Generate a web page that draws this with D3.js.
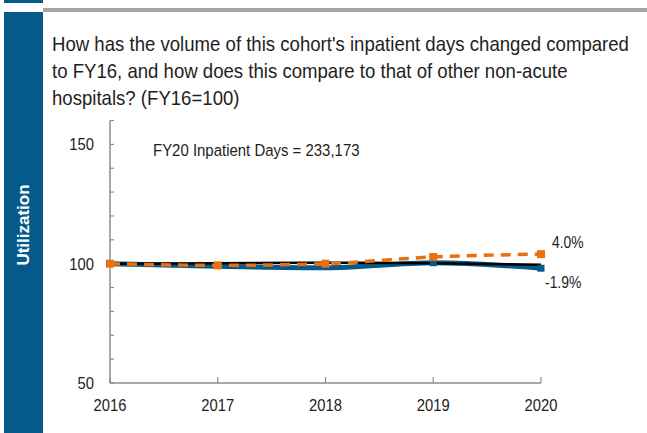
<!DOCTYPE html>
<html>
<head>
<meta charset="utf-8">
<script src="https://cdn.jsdelivr.net/npm/d3@7"></script>
<style>
  body { margin: 0; background: #fff; }
  svg { display: block; font-family: "Liberation Sans", Arial, sans-serif; }
</style>
</head>
<body>
<svg id="chart" width="647" height="433"></svg>
<script>
// data (FY16 = 100)
const years = [2016, 2017, 2018, 2019, 2020];
const cohort = [100, 98.9, 98.3, 100.4, 98.1];        // blue
const benchmark = [100, 100.2, 100.4, 100.2, 99.6];   // black
const nonAcute = [100, 99.3, 100, 102.8, 104.0];      // orange dashed
const yTicks = [50, 100, 150];
const endLabels = ["4.0%", "-1.9%"];
const titleLines = [
  "How has the volume of this cohort's inpatient days changed compared",
  "to FY16, and how does this compare to that of other non-acute",
  "hospitals? (FY16=100)"
];
const note = "FY20 Inpatient Days = 233,173";

const blue = "#045a8a";
const orange = "#e8700f";
const grey = "#8c8c8c";
const ink = "#1e1e1e";

const svg = d3.select("#chart");

// place text at (x,y) squeezed horizontally, the original font is a bit condensed
function label(sel, x, y, size, sx, anchor) {
  return sel.append("text")
    .attr("transform", `translate(${x},${y}) scale(${sx},1)`)
    .attr("text-anchor", anchor || "start")
    .attr("font-size", size)
    .attr("fill", ink);
}

// frame: side band, top rule
svg.append("rect").attr("x", 4).attr("y", 0).attr("width", 39).attr("height", 3).attr("fill", blue);
svg.append("rect").attr("x", 43).attr("y", 8).attr("width", 604).attr("height", 4).attr("fill", "#a6a6a6");
svg.append("rect").attr("x", 4).attr("y", 12).attr("width", 39).attr("height", 421).attr("fill", blue);
svg.append("text")
  .attr("transform", "translate(29,225) rotate(-90)")
  .attr("text-anchor", "middle")
  .attr("fill", "#fff")
  .attr("font-weight", "bold")
  .attr("font-size", 17)
  .text("Utilization");

// title
titleLines.forEach((t, i) => {
  label(svg, 52, 51 + i * 27, 20, 0.93).text(t);
});

// scales
const x = d3.scaleLinear().domain([2016, 2020]).range([110, 541]);
const y = d3.scaleLinear().domain([50, 160]).range([383, 120.5]);

// y axis with minor ticks every 10
const yAxis = svg.append("g").attr("transform", "translate(110,0)");
yAxis.append("line").attr("y1", y(160)).attr("y2", y(50)).attr("stroke", grey).attr("stroke-width", 1.5);
yAxis.selectAll(".tk")
  .data(d3.range(50, 161, 10))
  .join("line")
  .attr("x1", 0).attr("x2", 4)
  .attr("y1", d => y(d)).attr("y2", d => y(d))
  .attr("stroke", grey).attr("stroke-width", 1.2);
yTicks.forEach(v => {
  label(yAxis, -16, y(v) + 6, 17, 0.87, "end").text(v);
});

// x axis
const xAxis = svg.append("g").attr("transform", `translate(0,${y(50)})`);
xAxis.append("line").attr("x1", x(2016)).attr("x2", x(2020)).attr("stroke", grey).attr("stroke-width", 1.5);
xAxis.selectAll(".tk")
  .data(years)
  .join("line")
  .attr("x1", d => x(d)).attr("x2", d => x(d))
  .attr("y1", -6).attr("y2", 0)
  .attr("stroke", grey).attr("stroke-width", 1.2);
years.forEach(yr => {
  label(xAxis, x(yr), 28, 17, 0.87, "middle").text(yr);
});

// lines
const line = d3.line()
  .x((d, i) => x(years[i]))
  .y(d => y(d))
  .curve(d3.curveMonotoneX);

svg.append("path").datum(cohort)
  .attr("d", line).attr("fill", "none")
  .attr("stroke", blue).attr("stroke-width", 5);
svg.append("path").datum(benchmark)
  .attr("d", line).attr("fill", "none")
  .attr("stroke", "#000").attr("stroke-width", 2.5);
svg.selectAll(".bm")
  .data(cohort.slice(3))
  .join("rect")
  .attr("x", (d, i) => x(years[i + 3]) - 3.5)
  .attr("y", d => y(d) - 3.5)
  .attr("width", 7).attr("height", 7)
  .attr("fill", blue);

svg.append("path").datum(nonAcute)
  .attr("d", line).attr("fill", "none")
  .attr("stroke", orange).attr("stroke-width", 3.5)
  .attr("stroke-dasharray", "10,7");
svg.selectAll(".om")
  .data(nonAcute)
  .join("rect")
  .attr("x", (d, i) => x(years[i]) - 4)
  .attr("y", d => y(d) - 4)
  .attr("width", 8).attr("height", 8)
  .attr("fill", orange);

// end labels
label(svg, 552, 248, 16, 0.87).text(endLabels[0]);
label(svg, 545, 288, 16, 0.87).text(endLabels[1]);

// note
label(svg, 153, 156, 17, 0.88).text(note);
</script>
</body>
</html>
